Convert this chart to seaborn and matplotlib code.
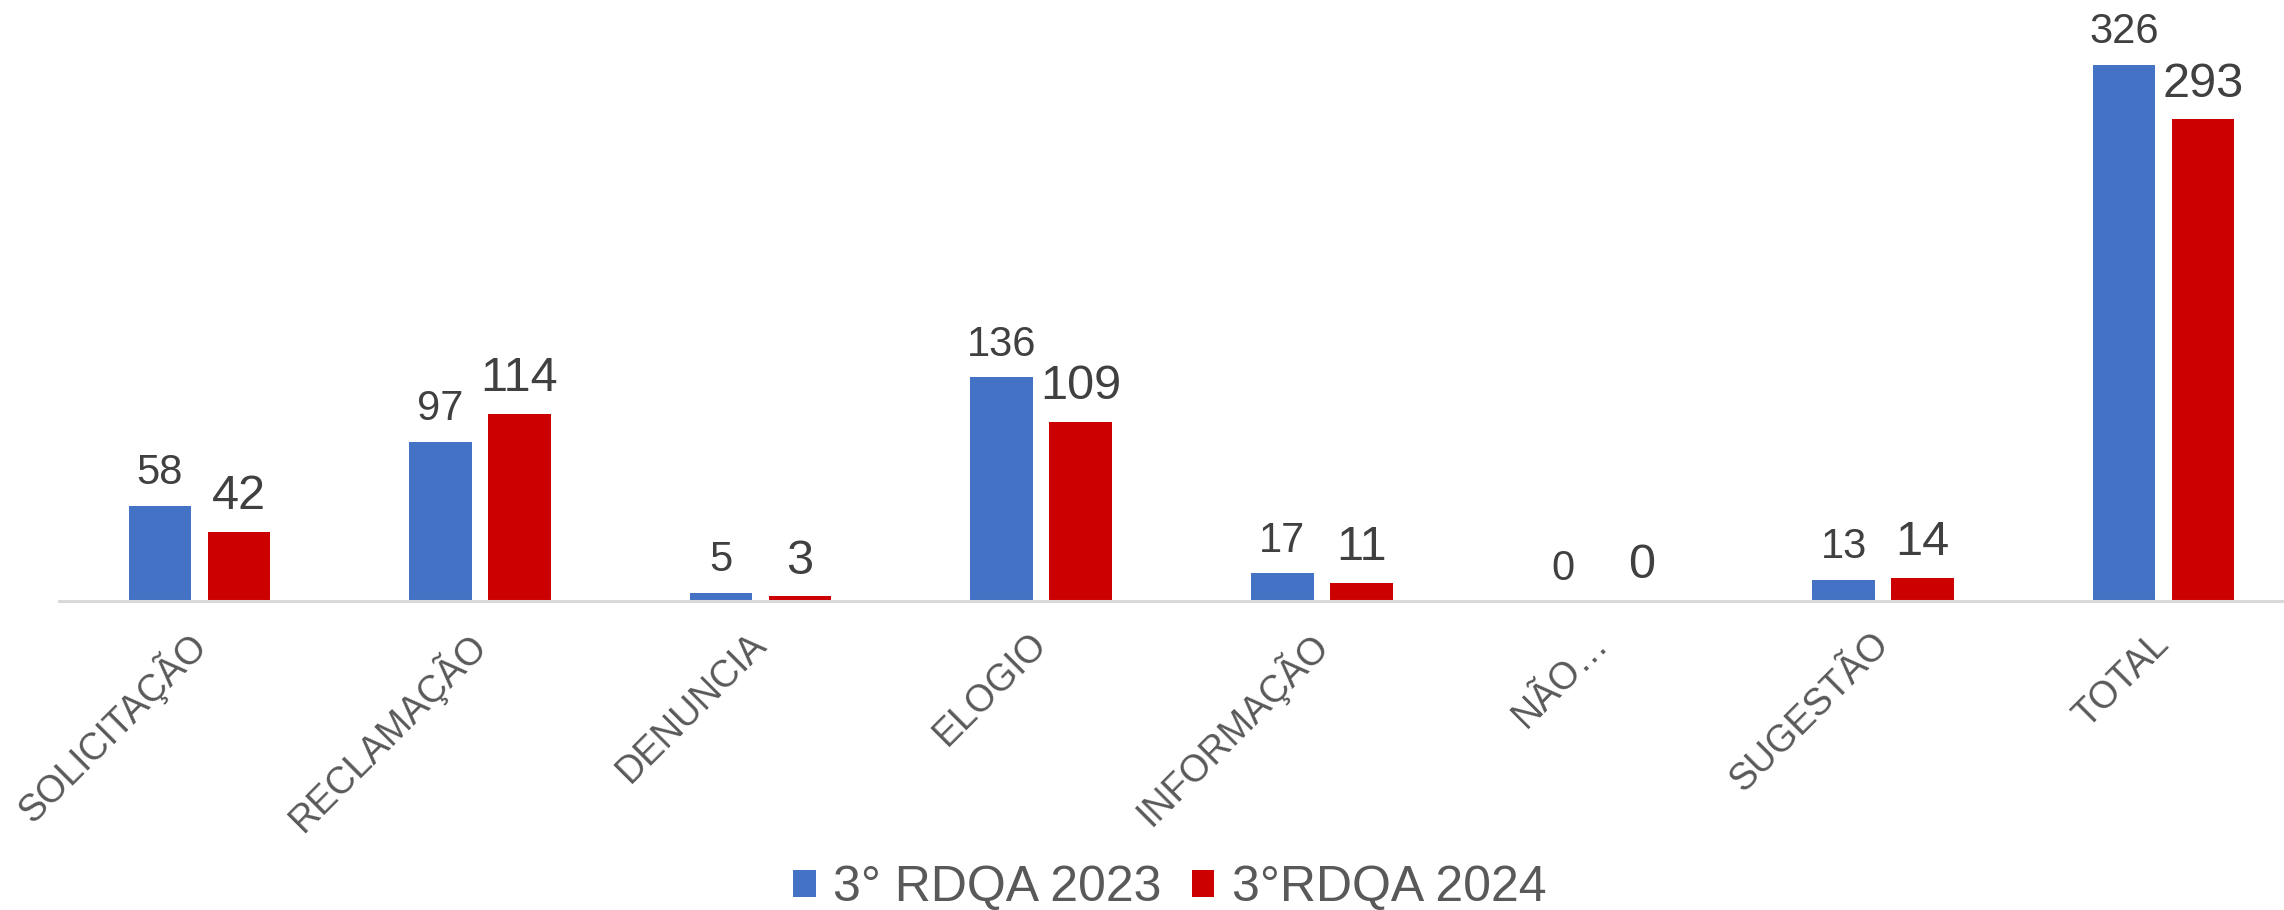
import matplotlib
matplotlib.use("Agg")
import matplotlib.pyplot as plt
import seaborn as sns
import pandas as pd

categories = ["SOLICITAÇÃO", "RECLAMAÇÃO", "DENUNCIA", "ELOGIO", "INFORMAÇÃO", "NÃO…", "SUGESTÃO", "TOTAL"]
series_names = ["3° RDQA 2023", "3°RDQA 2024"]
values_2023 = [58, 97, 5, 136, 17, 0, 13, 326]
values_2024 = [42, 114, 3, 109, 11, 0, 14, 293]

df = pd.DataFrame({
    "cat": categories * 2,
    "serie": [series_names[0]] * len(categories) + [series_names[1]] * len(categories),
    "val": values_2023 + values_2024,
})

sns.set_theme(style="white")
plt.rcParams['font.family'] = ['Liberation Sans', 'DejaVu Sans']

W, H = 2284, 910
fig = plt.figure(figsize=(W / 100, H / 100), dpi=100)
fig.patch.set_facecolor("white")
ax = fig.add_axes([59 / W, 1 - 601 / H, 2245 / W, 601 / H])
ax.set_clip_on(False)

palette = {series_names[0]: "#4472C4", series_names[1]: "#CC0000"}
sns.barplot(data=df, x="cat", y="val", hue="serie", palette=palette, ax=ax,
            width=0.563, gap=0.21, saturation=1, legend=True, linewidth=0)

ax.set_ylim(0, 365.5)
ax.set_xlim(-0.5, len(categories) - 0.5)
ax.set_xlabel("")
ax.set_ylabel("")
ax.set_yticks([])
for s in ["top", "right", "left"]:
    ax.spines[s].set_visible(False)
ax.spines["bottom"].set_color("#D9D9D9")
ax.spines["bottom"].set_linewidth(2.2)
ax.tick_params(axis="x", length=0, pad=27)

for lbl in ax.get_xticklabels():
    lbl.set_rotation(45)
    lbl.set_ha("right")
    lbl.set_va("center")
    lbl.set_rotation_mode("anchor")
    lbl.set_fontsize(27)
    lbl.set_color("#595959")

sizes = [30, 35]
for cont, fs in zip(ax.containers, sizes):
    ax.bar_label(cont, fmt="%d", padding=9, fontsize=fs, color="#404040")

handles, labels = ax.get_legend_handles_labels()
ax.get_legend().remove()
fig.legend(handles, labels, loc="center", bbox_to_anchor=(1170 / W, 1 - 888 / H),
           ncol=2, frameon=False, fontsize=36, handlelength=0.45, handleheight=0.45,
           handletextpad=0.35, columnspacing=0.6, labelcolor="#595959")

fig.savefig("out.png", dpi=100, facecolor="white")
